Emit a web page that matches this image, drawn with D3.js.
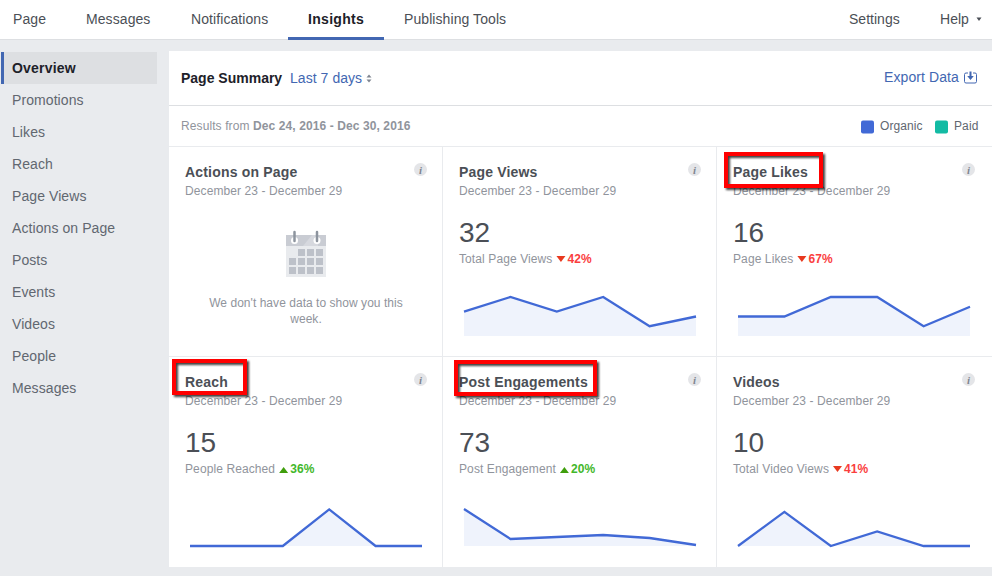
<!DOCTYPE html>
<html>
<head>
<meta charset="utf-8">
<script src="https://d3js.org/d3.v7.min.js"></script>
<style>
  html, body { margin: 0; padding: 0; background: #e9ebee; overflow: hidden; }
  svg { display: block; }
  text { font-family: "Liberation Sans", Arial, sans-serif; }
</style>
</head>
<body>
<div id="container"></div>
<script>
// Chart values
const days = [0, 1, 2, 3, 4, 5];
const pageViews = [5, 8, 5, 8, 2, 4];
const pageLikes = [2, 2, 4, 4, 1, 3];
const reach = [0, 0, 0, 15, 0, 0];
const postEngagements = [37, 7, 9, 11, 8, 1];
const videos = [0, 7, 0, 3, 0, 0];

const navLeft = ['Page', 'Messages', 'Notifications', 'Insights', 'Publishing Tools'];
const navRight = ['Settings', 'Help'];
const sideItems = ['Overview', 'Promotions', 'Likes', 'Reach', 'Page Views', 'Actions on Page', 'Posts', 'Events', 'Videos', 'People', 'Messages'];
const dateRange = 'December 23 - December 29';

const cardTitles = ['Page Views', 'Page Likes', 'Reach', 'Post Engagements', 'Videos'];
const cardTotals = [32, 16, 15, 73, 10];
const cardLabels = ['Total Page Views', 'Page Likes', 'People Reached', 'Post Engagement', 'Total Video Views'];
const cardChanges = [-42, -67, 36, 20, -41];
const cardSeries = [pageViews, pageLikes, reach, postEngagements, videos];
const cardMax = [8, 4, 16, 39, 8];

const width = 992, height = 576;
const colX = [169, 443, 717];
const rowY = [147, 357];
const blue = '#4267b2';
const lineBlue = '#4169d6';
const dark = '#4b4f56';
const grey = '#90949c';

const svg = d3.select('#container').append('svg')
    .attr('width', width)
    .attr('height', height);

function label(x, y, str, size, color, opts = {}) {
    return svg.append('text')
        .attr('x', x)
        .attr('y', y)
        .attr('font-size', size)
        .attr('fill', color)
        .attr('font-weight', opts.bold ? 'bold' : 'normal')
        .attr('text-anchor', opts.anchor || 'start')
        .style('letter-spacing', (opts.spacing ?? 0.1) + 'px')
        .text(str);
}

function box(x, y, w, h, fill) {
    return svg.append('rect').attr('x', x).attr('y', y).attr('width', w).attr('height', h).attr('fill', fill);
}

// Top nav
box(0, 0, width, 40, '#fff');
box(0, 39, width, 1, '#dddfe2');
box(288, 37, 96, 3, blue);
const navX = [13, 86, 191, 308, 404];
navLeft.forEach((d, i) => label(navX[i], 24, d, 14, d === 'Insights' ? '#1d2129' : dark, { bold: d === 'Insights', spacing: d === 'Insights' ? 0.3 : 0.08 }));
const navRightX = [849, 940];
navRight.forEach((d, i) => label(navRightX[i], 24, d, 14, dark, { spacing: 0.02 }));
svg.append('path').attr('d', 'M976.5 17.5h5l-2.5 3.5z').attr('fill', dark);

// Sidebar
box(1, 52, 156, 32, '#dddfe2');
box(1, 52, 3, 32, blue);
sideItems.forEach((d, i) => label(12, 73 + i * 32, d, 14, i === 0 ? '#1d2129' : '#616770', { bold: i === 0, spacing: i === 0 ? 0.2 : 0.08 }));

// Main panel
box(169, 51, 823, 516, '#fff');
box(169, 105, 823, 1, '#dddfe2');
box(169, 146, 823, 1, '#e9ebee');
box(442, 147, 1, 420, '#e9ebee');
box(716, 147, 1, 420, '#e9ebee');
box(169, 356, 823, 1, '#e9ebee');

label(181, 83, 'Page Summary', 14, '#1d2129', { bold: true, spacing: 0 });
label(290, 83, 'Last 7 days', 14, blue, { spacing: 0.05 });
svg.append('path').attr('d', 'M366.5 77.5l2.5-3 2.5 3zM366.5 79.5l2.5 3 2.5-3z').attr('fill', '#7f8590');

label(959, 82, 'Export Data', 14, blue, { anchor: 'end' });
svg.append('path')
    .attr('d', 'M968 73h-2a1.5 1.5 0 0 0-1.5 1.5v7a1.5 1.5 0 0 0 1.5 1.5h9a1.5 1.5 0 0 0 1.5-1.5v-7a1.5 1.5 0 0 0-1.5-1.5h-2')
    .attr('fill', 'none').attr('stroke', blue).attr('stroke-width', 1);
svg.append('path').attr('d', 'M969.5 71.5h2v4.5h2.3l-3.3 4-3.3-4h2.3z').attr('fill', blue);

label(181, 130, 'Results from ', 12, grey, { spacing: 0.1 }).append('tspan').attr('font-weight', 'bold').text('Dec 24, 2016 - Dec 30, 2016');

box(861, 120.5, 13, 13, lineBlue).attr('rx', 2);
label(880, 130, 'Organic', 12, '#616770');
box(935, 120.5, 13, 13, '#13bba4').attr('rx', 2);
label(954, 130, 'Paid', 12, '#616770');

function infoIcon(cx, cy) {
    svg.append('circle').attr('cx', cx).attr('cy', cy).attr('r', 6.5).attr('fill', '#e4e5e8');
    svg.append('text').attr('x', cx).attr('y', cy + 4).attr('text-anchor', 'middle')
        .attr('font-size', 11).attr('font-weight', 'bold').attr('font-style', 'italic')
        .style('font-family', '"Liberation Serif", serif')
        .attr('fill', '#7f8590').text('i');
}

// Empty card: Actions on Page
label(185, 177, 'Actions on Page', 14, dark, { bold: true, spacing: 0.18 });
label(185, 195, dateRange, 12, grey);
infoIcon(420.5, 169.5);
box(286, 235, 40, 42, '#e9ebee');
box(286, 235, 40, 11, '#c9ccd3');
svg.append('path').attr('d', 'M303 246l9-11h6v11z').attr('fill', '#d6d8de');
[294.5, 317].forEach(x => {
    svg.append('circle').attr('cx', x).attr('cy', 240.5).attr('r', 3.5).attr('fill', '#fff');
    svg.append('line').attr('x1', x).attr('x2', x).attr('y1', 232).attr('y2', 241)
        .attr('stroke', '#8d949e').attr('stroke-width', 2.5).attr('stroke-linecap', 'round');
});
d3.range(3).forEach(r => d3.range(4).forEach(c => {
    if (r === 0 && c === 0) return;
    box(289 + c * 9, 249 + r * 9, 7, 7, '#bdc1c9');
}));
label(306, 307, "We don't have data to show you this", 12, grey, { anchor: 'middle', spacing: 0.04 });
label(306, 323, 'week.', 12, grey, { anchor: 'middle', spacing: 0.04 });

// Metric cards with sparklines
const cardCol = [1, 2, 0, 1, 2];
const cardRow = [0, 0, 1, 1, 1];
const xStart = [464, 738, 190, 464, 738];
const area = d3.area().curve(d3.curveLinear);
const line = d3.line().curve(d3.curveLinear);

cardTitles.forEach((title, i) => {
    const left = colX[cardCol[i]] + 16;
    const top = rowY[cardRow[i]];
    label(left, top + 30, title, 14, dark, { bold: true, spacing: 0.18 });
    label(left, top + 48, dateRange, 12, grey);
    infoIcon(colX[cardCol[i]] + 251.5, top + 22.5);
    label(left, top + 95, cardTotals[i], 28, dark, { spacing: 0 });
    const cap = label(left, top + 116, cardLabels[i], 12, grey);
    const capEnd = left + cap.node().getComputedTextLength();
    const up = cardChanges[i] > 0;
    const tx = capEnd + 4;
    const ty = top + 107;
    svg.append('path')
        .attr('d', up ? `M${tx} ${ty + 9}l4.5-6 4.5 6z` : `M${tx} ${ty + 2}l4.5 6 4.5-6z`)
        .attr('fill', up ? '#3f9e0c' : '#e8391f');
    label(tx + 11, top + 116, Math.abs(cardChanges[i]) + '%', 12, up ? '#42b72a' : '#fa3e3e', { bold: true });

    const x = d3.scaleLinear().domain(d3.extent(days)).range([xStart[i], xStart[i] + 232]);
    const baseline = top + 189;
    const y = d3.scaleLinear().domain([0, cardMax[i]]).range([baseline, baseline - 39]);
    const series = cardSeries[i];
    area.x(d => x(d)).y0(baseline).y1(d => y(series[d]));
    line.x(d => x(d)).y(d => y(series[d]));
    svg.append('path').attr('d', area(days)).attr('fill', '#eff3fc');
    svg.append('path').attr('d', line(days)).attr('fill', 'none').attr('stroke', lineBlue).attr('stroke-width', 2.3);
});

// Red highlight boxes
const defs = svg.append('defs');
const shadow = defs.append('filter').attr('id', 'shadow')
    .attr('x', '-20%').attr('y', '-30%').attr('width', '140%').attr('height', '160%');
shadow.append('feDropShadow').attr('dx', 2).attr('dy', 2).attr('stdDeviation', 1.2)
    .attr('flood-color', '#000').attr('flood-opacity', 0.75);

const highlightX = [724, 172, 454];
const highlightY = [152, 359, 360];
const highlightW = [99, 75, 143];
highlightX.forEach((hx, i) => {
    svg.append('rect')
        .attr('x', hx + 2).attr('y', highlightY[i] + 2)
        .attr('width', highlightW[i] - 4).attr('height', 32)
        .attr('fill', 'none').attr('stroke', '#f00').attr('stroke-width', 4)
        .attr('filter', 'url(#shadow)');
});
</script>
</body>
</html>
